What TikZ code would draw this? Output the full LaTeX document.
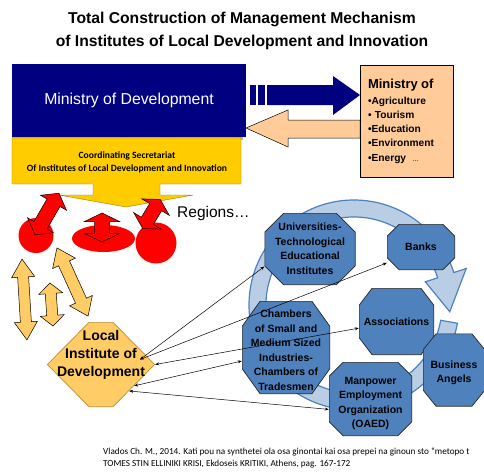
\documentclass[tikz,border=0pt]{standalone}
\usepackage{fontspec}
\setmainfont{Liberation Sans}
\newfontfamily\calibri{Carlito}
\usetikzlibrary{arrows.meta,calc}

\definecolor{devblue}{RGB}{0,0,128}
\definecolor{secgold}{RGB}{255,204,0}
\definecolor{peach}{RGB}{255,204,153}
\definecolor{lorange}{RGB}{255,204,102}
\definecolor{octblue}{RGB}{79,129,189}
\definecolor{ringfill}{RGB}{185,205,229}
\definecolor{ringline}{RGB}{79,129,189}

\tikzset{
  devbox/.style={rectangle, fill=devblue, text=white, minimum width=234pt, minimum height=73pt,
    font=\fontsize{15.8}{18}\selectfont},
  peachbox/.style={rectangle, draw=black, line width=0.8pt, fill=peach, minimum width=93pt,
    minimum height=112pt, text width=77pt, align=left, font=\bfseries\fontsize{10.2}{14.2}\selectfont},
  cutbox/.style n args={4}{rectangle, inner sep=0pt,
    path picture={\filldraw[fill=#3, draw=#4, line width=0.7pt]
      ([xshift=#1, yshift=-0.35pt]path picture bounding box.north west)
      -- ([xshift=-#1, yshift=-0.35pt]path picture bounding box.north east)
      -- ([xshift=-0.35pt, yshift=-#2]path picture bounding box.north east)
      -- ([xshift=-0.35pt, yshift=#2]path picture bounding box.south east)
      -- ([xshift=-#1, yshift=0.35pt]path picture bounding box.south east)
      -- ([xshift=#1, yshift=0.35pt]path picture bounding box.south west)
      -- ([xshift=0.35pt, yshift=#2]path picture bounding box.south west)
      -- ([xshift=0.35pt, yshift=-#2]path picture bounding box.north west) -- cycle;}},
  octa/.style 2 args={cutbox={#1}{#2}{octblue}{black!85}, font=\bfseries\fontsize{10.5}{14.5}\selectfont},
  link/.style={{Stealth[length=4pt,width=3pt]}-{Stealth[length=4pt,width=3pt]}, line width=0.5pt},
  redarrow/.style={fill=red, draw=black, line width=0.5pt},
  twoway/.style={fill=lorange, draw=black, line width=0.5pt},
}
\newcommand{\shapetext}[2][-3.5pt]{\smash{\raisebox{#1}{\makebox[0pt]{\begin{tabular}{@{}c@{}}#2\end{tabular}}}}}

\begin{document}
\begin{tikzpicture}[x=1pt,y=-1pt]
  \useasboundingbox (0,0) rectangle (484,472);

  \node[font=\bfseries\fontsize{15.7}{22.5}\selectfont, align=center] (title) at (242,31)
    {Total Construction of Management Mechanism\\of Institutes of Local Development and Innovation};

  % ring behind the partners
  \coordinate (hub) at (354,305);
  \draw[ringline, fill=ringfill, line width=1.2pt]
    ($(hub)+(10:105)$) arc[start angle=10, end angle=342, radius=105]
    -- ($(hub)+(342:118)$) -- ($(hub)+(364:96)$) -- ($(hub)+(342:75)$)
    -- ($(hub)+(342:88)$) arc[start angle=342, end angle=10, radius=88] -- cycle;

  \fill[gray!60] (12,66) rectangle (243,139.5);
  \node[devbox] (mod) at (129,100.5) {Ministry of Development};

  \draw[fill=secgold, draw=secgold!60!black, line width=0.4pt] (12,138) -- (241,138) -- (241,184)
    -- (160,184) -- (160,195) -- (193,195) -- (126,207) -- (59,195) -- (93,195) -- (93,184)
    -- (12,184) -- cycle;
  \node[font=\calibri\bfseries\fontsize{9.6}{13}\selectfont, align=center] (sec) at (127,162.5)
    {Coordinating Secretariat\\Of Institutes of Local Development and Innovation};

  \fill[devblue] (250,85) rectangle (256,105);
  \fill[devblue] (258,85) rectangle (265,105);
  \fill[devblue] (267,85) -- (333,85) -- (333,76) -- (360,95) -- (333,115) -- (333,105) -- (267,105) -- cycle;
  \draw[fill=peach, draw=black, line width=0.5pt] (360,120) -- (288,120) -- (288,110) -- (246,128)
    -- (288,147) -- (288,138) -- (360,138) -- cycle;

  \node[peachbox] (minof) at (406.5,121)
    {{\fontsize{13}{16}\selectfont Ministry of}\\[2pt]
     •Agriculture\\ • Tourism\\ •Education\\ •Environment\\ •Energy\ \ {\mdseries\fontsize{7}{8}\selectfont ...}};

  % regions
  \fill[red] (36,235.5) circle[radius=17.5];
  \fill[red] (103.5,238.5) ellipse[x radius=31.5, y radius=13.5];
  \fill[red] (156,243) circle[radius=20.5];
  \begin{scope}[shift={(47,214)}, rotate=60]
    \draw[redarrow] (24,0) -- (13,15) -- (13,7.5) -- (-13,7.5) -- (-13,15) -- (-24,0) -- (-13,-15)
      -- (-13,-7.5) -- (13,-7.5) -- (13,-15) -- cycle;
  \end{scope}
  \begin{scope}[shift={(102,227.5)}, rotate=90]
    \draw[redarrow] (14.5,0) -- (6,17.5) -- (6,7.5) -- (-6,7.5) -- (-6,17.5) -- (-14.5,0) -- (-6,-17.5)
      -- (-6,-7.5) -- (6,-7.5) -- (6,-17.5) -- cycle;
  \end{scope}
  \begin{scope}[shift={(151.5,214)}, rotate=59]
    \draw[redarrow] (17,0) -- (8,16) -- (8,7) -- (-8,7) -- (-8,16) -- (-17,0) -- (-8,-16)
      -- (-8,-7) -- (8,-7) -- (8,-16) -- cycle;
  \end{scope}
  \node[anchor=west, font=\fontsize{15.5}{18}\selectfont, inner sep=0pt] (reg) at (177,213) {Regions…};

  \begin{scope}[shift={(24.5,299.5)}, rotate=93.5]
    \draw[twoway] (40.5,0) -- (22.5,11.5) -- (22.5,5.5) -- (-22.5,5.5) -- (-22.5,11.5) -- (-40.5,0)
      -- (-22.5,-11.5) -- (-22.5,-5.5) -- (22.5,-5.5) -- (22.5,-11.5) -- cycle;
  \end{scope}
  \begin{scope}[shift={(51.5,304.5)}, rotate=94]
    \draw[twoway] (21.5,0) -- (11,12) -- (11,5.5) -- (-11,5.5) -- (-11,12) -- (-21.5,0)
      -- (-11,-12) -- (-11,-5.5) -- (11,-5.5) -- (11,-12) -- cycle;
  \end{scope}
  \begin{scope}[shift={(72.5,282)}, rotate=114.5]
    \draw[twoway] (37.5,0) -- (20.5,12.5) -- (20.5,6) -- (-20.5,6) -- (-20.5,12.5) -- (-37.5,0)
      -- (-20.5,-12.5) -- (-20.5,-6) -- (20.5,-6) -- (20.5,-12.5) -- cycle;
  \end{scope}

  \node[cutbox={42pt}{42.5pt}{lorange}{{rgb,255:red,190;green,140;blue,50}}, minimum width=108pt,
    minimum height=85pt, font=\bfseries\fontsize{14}{18}\selectfont] (lid) at (101,364.5)
    {\shapetext[6pt]{Local\\Institute of\\Development}};

  % partners
  \node[octa={19pt}{19pt}, minimum width=91pt, minimum height=72pt] (uni) at (310,249)
    {\shapetext{Universities-\\Technological\\Educational\\Institutes}};
  \node[octa={12pt}{12pt}, minimum width=68pt, minimum height=46pt] (bank) at (421,247)
    {\shapetext{Banks}};
  \node[octa={13pt}{17pt}, minimum width=75pt, minimum height=67pt] (assoc) at (396.5,321.5)
    {\shapetext{Associations}};
  \node[octa={13pt}{16pt}, minimum width=62pt, minimum height=73pt] (biz) at (454,370)
    {\shapetext[-5.5pt]{Business\\Angels}};
  \node[octa={18pt}{25pt}, minimum width=88pt, minimum height=93pt] (cham) at (286,347.5)
    {\shapetext[-6.5pt]{Chambers\\of Small and\\Medium Sized\\Industries-\\Chambers of\\Tradesmen}};
  \node[octa={14pt}{14pt}, minimum width=83pt, minimum height=74pt] (oaed) at (370.5,399)
    {\shapetext[-7pt]{Manpower\\Employment\\Organization\\(OAED)}};

  \coordinate (lidtop) at (140,359.5);
  \draw[link] (lidtop) -- (uni.201);
  \draw[link] (lidtop) -- (bank.205);
  \draw[link] (lid.east) -- (assoc.190);
  \draw[link] ($(lid.east)!0.5!([xshift=-42pt]lid.south east)$) -- (cham.197);
  \draw[link] ($(lid.east)!0.62!([xshift=-42pt]lid.south east)$) -- (oaed.194);

  \node[anchor=west, inner sep=0pt, align=left, font=\calibri\fontsize{9.2}{12}\selectfont] (cite) at (103,458)
    {Vlados Ch. M., 2014. Kati pou na synthetei ola osa ginontai kai osa prepei na ginoun sto “metopo t\\
     TOMES STIN ELLINIKI KRISI, Ekdoseis KRITIKI, Athens, pag. 167-172};
\end{tikzpicture}
\end{document}
